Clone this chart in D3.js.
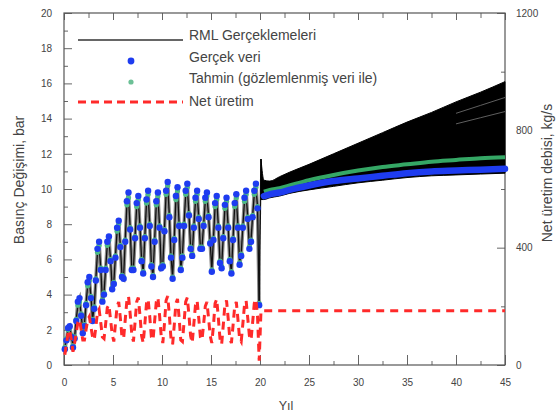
<!DOCTYPE html>
<html>
<head>
<meta charset="utf-8">
<title>RML Gerçeklemeleri</title>
<script src="https://d3js.org/d3.v7.min.js"></script>
<style>
    body { margin: 0; background: #fff; }
    svg text { font-family: "Liberation Sans", Arial, sans-serif; fill: #444; }
</style>
</head>
<body>
<div id="chart"></div>
<script>
// history, 6 samples per year (years 0-20), basınç değişimi in bar
const obsHist = [
    0.9, 1.4, 2.1, 2.2, 1.6, 1.0,
    1.5, 2.5, 3.6, 3.8, 2.8, 1.8,
    2.2, 3.4, 4.7, 5.0, 3.8, 2.5,
    3.2, 4.8, 6.6, 7.0, 5.4, 3.6,
    4.0, 5.4, 7.0, 7.3, 5.9, 4.3,
    4.6, 6.1, 7.8, 8.2, 6.7, 5.0,
    4.9, 7.0, 9.3, 9.8, 7.7, 5.4,
    5.4, 7.2, 9.2, 9.6, 7.8, 5.9,
    5.2, 7.2, 9.4, 9.9, 7.9, 5.6,
    5.0, 7.0, 9.3, 9.8, 7.8, 5.5,
    5.6, 7.6, 9.9, 10.4, 8.4, 6.1,
    4.9, 7.1, 9.6, 10.1, 7.9, 5.4,
    6.1, 7.9, 9.9, 10.3, 8.5, 6.6,
    6.2, 7.8, 9.5, 9.9, 8.3, 6.6,
    6.6, 7.9, 9.5, 9.8, 8.4, 6.9,
    5.3, 7.1, 9.2, 9.6, 7.8, 5.8,
    5.5, 7.2, 9.1, 9.5, 7.8, 5.9,
    5.2, 7.1, 9.2, 9.7, 7.8, 5.7,
    6.2, 7.8, 9.5, 9.9, 8.3, 6.6,
    7.0, 8.4, 9.9, 10.3, 8.9, 3.4
];
const predHist = [
    1.0, 1.5, 2.0, 2.1, 1.7, 1.1,
    1.6, 2.6, 3.4, 3.6, 2.9, 1.9,
    2.3, 3.5, 4.5, 4.8, 3.9, 2.6,
    3.3, 4.9, 6.4, 6.8, 5.5, 3.7,
    4.1, 5.5, 6.8, 7.1, 6.0, 4.4,
    4.7, 6.2, 7.6, 8.0, 6.8, 5.1,
    5.0, 7.1, 9.1, 9.5, 7.8, 5.5,
    5.5, 7.3, 9.0, 9.4, 7.9, 6.0,
    5.3, 7.3, 9.2, 9.7, 8.0, 5.7,
    5.1, 7.1, 9.1, 9.6, 7.9, 5.6,
    5.7, 7.7, 9.7, 10.2, 8.5, 6.2,
    5.0, 7.2, 9.4, 9.9, 8.0, 5.5,
    6.2, 8.0, 9.7, 10.1, 8.6, 6.7,
    6.3, 7.9, 9.3, 9.7, 8.4, 6.7,
    6.7, 8.0, 9.3, 9.6, 8.5, 7.0,
    5.4, 7.2, 9.0, 9.4, 7.9, 5.9,
    5.6, 7.3, 8.9, 9.3, 7.9, 6.0,
    5.3, 7.2, 9.0, 9.5, 7.9, 5.8,
    6.3, 7.9, 9.3, 9.7, 8.4, 6.7,
    7.1, 8.5, 9.7, 10.1, 9.0, 3.5
];
// net üretim, kg/s
const prodHist = [
    35, 70, 110, 120, 85, 45,
    75, 110, 145, 155, 120, 85,
    85, 120, 155, 165, 130, 95,
    85, 130, 180, 190, 145, 95,
    90, 140, 195, 205, 155, 105,
    80, 140, 200, 215, 160, 95,
    90, 155, 220, 235, 175, 105,
    80, 145, 215, 230, 170, 100,
    75, 140, 210, 225, 165, 95,
    85, 150, 215, 230, 170, 100,
    75, 140, 220, 235, 170, 90,
    70, 135, 210, 225, 160, 85,
    80, 145, 215, 230, 170, 100,
    75, 140, 205, 220, 160, 95,
    85, 140, 200, 215, 160, 100,
    75, 135, 210, 225, 160, 90,
    70, 135, 205, 220, 160, 90,
    75, 135, 200, 215, 155, 90,
    80, 140, 205, 220, 160, 100,
    85, 145, 210, 225, 165, 15
];

// forecast
const forecastYears = [20.4, 21, 22, 23, 25, 27.5, 30, 32.5, 35, 37.5, 40, 42.5, 45];
const obsForecast = [9.6, 9.7, 9.8, 9.95, 10.2, 10.45, 10.6, 10.75, 10.9, 11.0, 11.05, 11.1, 11.15];
const predForecast = [9.85, 9.95, 10.05, 10.2, 10.5, 10.8, 11.05, 11.25, 11.4, 11.55, 11.65, 11.75, 11.8];

// RML realization spread
const envYears = [20.1, 20.4, 21, 22, 23, 25, 27.5, 30, 32.5, 35, 37.5, 40, 42.5, 45];
const envUpper = [11.7, 10.5, 10.45, 10.7, 10.95, 11.4, 12.0, 12.6, 13.2, 13.8, 14.35, 14.95, 15.5, 16.1];
const envLower = [9.4, 9.4, 9.5, 9.6, 9.75, 9.95, 10.15, 10.35, 10.5, 10.65, 10.75, 10.8, 10.85, 10.9];
const sparseYears = [40, 42.5, 45];
const sparseA = [14.3, 14.75, 15.2];
const sparseB = [13.7, 14.05, 14.4];

const prodForecastYears = [20.1, 45];
const prodForecast = [185, 185];

const xMajor = [0, 5, 10, 15, 20, 25, 30, 35, 40, 45];
const xMinor = [2.5, 7.5, 12.5, 17.5, 22.5, 27.5, 32.5, 37.5, 42.5];
const yMajor = [0, 2, 4, 6, 8, 10, 12, 14, 16, 18, 20];
const yMinor = [1, 3, 5, 7, 9, 11, 13, 15, 17, 19];
const rMajor = [0, 400, 800, 1200];
const rMinor = [200, 600, 1000];

const width = 556;
const height = 417;
const histYears = obsHist.map((d, i) => i / 6 + 1 / 12);

const svg = d3.select('#chart')
    .append('svg')
    .attr('width', width)
    .attr('height', height);

const x = d3.scaleLinear().domain([0, 45]).range([64, 505]);
const y = d3.scaleLinear().domain([0, 20]).range([365, 13]);
const yR = d3.scaleLinear().domain([0, 1200]).range([365, 13]);

// axes, ticks pointing inward
function addAxis(axis, transform, size) {
    svg.append('g')
        .attr('transform', transform)
        .attr('font-size', size)
        .call(axis)
        .call(g => g.select('.domain').remove())
        .call(g => g.selectAll('line').attr('stroke', '#666'))
        .call(g => g.selectAll('text').attr('fill', '#666').attr('font-family', '"Liberation Sans", Arial, sans-serif'));
}
addAxis(d3.axisBottom(x).tickValues(xMajor).tickSize(-10).tickPadding(14).tickFormat(d3.format('d')), 'translate(0,365)', 11);
addAxis(d3.axisBottom(x).tickValues(xMinor).tickSize(-4).tickFormat(''), 'translate(0,365)', 11);
addAxis(d3.axisTop(x).tickValues(xMajor).tickSize(-7).tickFormat(''), 'translate(0,13)', 11);
addAxis(d3.axisTop(x).tickValues(xMinor).tickSize(-5).tickFormat(''), 'translate(0,13)', 11);
addAxis(d3.axisLeft(y).tickValues(yMajor).tickSize(-8).tickPadding(12), 'translate(64,0)', 11);
addAxis(d3.axisLeft(y).tickValues(yMinor).tickSize(-4).tickFormat(''), 'translate(64,0)', 11);
addAxis(d3.axisRight(yR).tickValues(rMajor).tickSize(-8).tickPadding(11).tickFormat(d3.format('d')), 'translate(505,0)', 11.5);
addAxis(d3.axisRight(yR).tickValues(rMinor).tickSize(-4).tickFormat(''), 'translate(505,0)', 11);

svg.append('rect')
    .attr('x', x(0)).attr('y', y(20))
    .attr('width', x(45) - x(0)).attr('height', y(0) - y(20))
    .attr('fill', 'none').attr('stroke', '#555').attr('stroke-width', 1.2);

const plot = svg.append('g');

// RML realizations, history
const histLine = d3.line().x((d, i) => x(histYears[i])).y(d => y(d));
plot.append('path').datum(obsHist)
    .attr('d', histLine).attr('fill', 'none')
    .attr('stroke', '#8a8a8a').attr('stroke-width', 3.5);
plot.append('path').datum(predHist)
    .attr('d', histLine).attr('fill', 'none')
    .attr('stroke', '#111').attr('stroke-width', 1.3);
plot.append('path')
    .datum([[histYears[histYears.length - 1], predHist[predHist.length - 1]], [envYears[0], envUpper[0]]])
    .attr('d', d3.line().x(d => x(d[0])).y(d => y(d[1])))
    .attr('fill', 'none').attr('stroke', '#111').attr('stroke-width', 1.5);

// RML realizations, forecast spread
plot.append('path').datum(envYears)
    .attr('d', d3.area().x(d => x(d)).y0((d, i) => y(envLower[i])).y1((d, i) => y(envUpper[i])).curve(d3.curveMonotoneX))
    .attr('fill', '#000').attr('stroke', '#000').attr('stroke-width', 1);
[sparseA, sparseB].forEach(s => {
    plot.append('path').datum(s)
        .attr('d', d3.line().x((d, i) => x(sparseYears[i])).y(d => y(d)))
        .attr('fill', 'none').attr('stroke', '#777').attr('stroke-width', 0.8);
});

// observed and predicted, history
plot.append('g').selectAll('circle').data(predHist).enter().append('circle')
    .attr('cx', (d, i) => x(histYears[i])).attr('cy', d => y(d))
    .attr('r', 2.6).attr('fill', '#4dbb85');
plot.append('g').selectAll('circle').data(obsHist).enter().append('circle')
    .attr('cx', (d, i) => x(histYears[i])).attr('cy', d => y(d))
    .attr('r', 3.2).attr('fill', '#1e3cf0');

// forecast curves
const fcLine = d3.line().x((d, i) => x(forecastYears[i])).y(d => y(d)).curve(d3.curveMonotoneX);
plot.append('path').datum(predForecast)
    .attr('d', fcLine).attr('fill', 'none')
    .attr('stroke', '#35a765').attr('stroke-width', 4);
plot.append('path').datum(obsForecast)
    .attr('d', fcLine).attr('fill', 'none')
    .attr('stroke', '#1e3cf0').attr('stroke-width', 6.5).attr('stroke-linecap', 'round');

// net üretim
const prodYears = histYears.concat(prodForecastYears);
const prodValues = prodHist.concat(prodForecast);
plot.append('path').datum(prodValues)
    .attr('d', d3.line().x((d, i) => x(prodYears[i])).y(d => yR(d)))
    .attr('fill', 'none').attr('stroke', '#ff2a2a')
    .attr('stroke-width', 3).attr('stroke-dasharray', '8,6');

// legend
const legend = svg.append('g').attr('font-size', 14);
legend.append('line').attr('x1', 78).attr('x2', 183).attr('y1', 40).attr('y2', 40)
    .attr('stroke', '#333').attr('stroke-width', 1.3);
legend.append('circle').attr('cx', 131).attr('cy', 61).attr('r', 3.4).attr('fill', '#1e3cf0');
legend.append('circle').attr('cx', 131).attr('cy', 82).attr('r', 2.6).attr('fill', '#6cc096');
legend.append('line').attr('x1', 78).attr('x2', 183).attr('y1', 102).attr('y2', 102)
    .attr('stroke', '#ff2a2a').attr('stroke-width', 3).attr('stroke-dasharray', '8,5');
const legendLabels = ['RML Gerçeklemeleri', 'Gerçek veri', 'Tahmin (gözlemlenmiş veri ile)', 'Net üretim'];
const legendY = [39.5, 62, 83, 106];
legend.selectAll('text').data(legendLabels).enter().append('text')
    .attr('x', 189).attr('y', (d, i) => legendY[i]).text(d => d);

// axis titles
svg.append('text').attr('x', 286).attr('y', 410).attr('text-anchor', 'middle')
    .attr('font-size', 12.5).text('Yıl');
svg.append('text').attr('transform', 'translate(24,180) rotate(-90)').attr('text-anchor', 'middle')
    .attr('font-size', 14).text('Basınç Değişimi, bar');
svg.append('text').attr('transform', 'translate(552,173) rotate(-90)').attr('text-anchor', 'middle')
    .attr('font-size', 14).text('Net üretim debisi, kg/s');
</script>
</body>
</html>
